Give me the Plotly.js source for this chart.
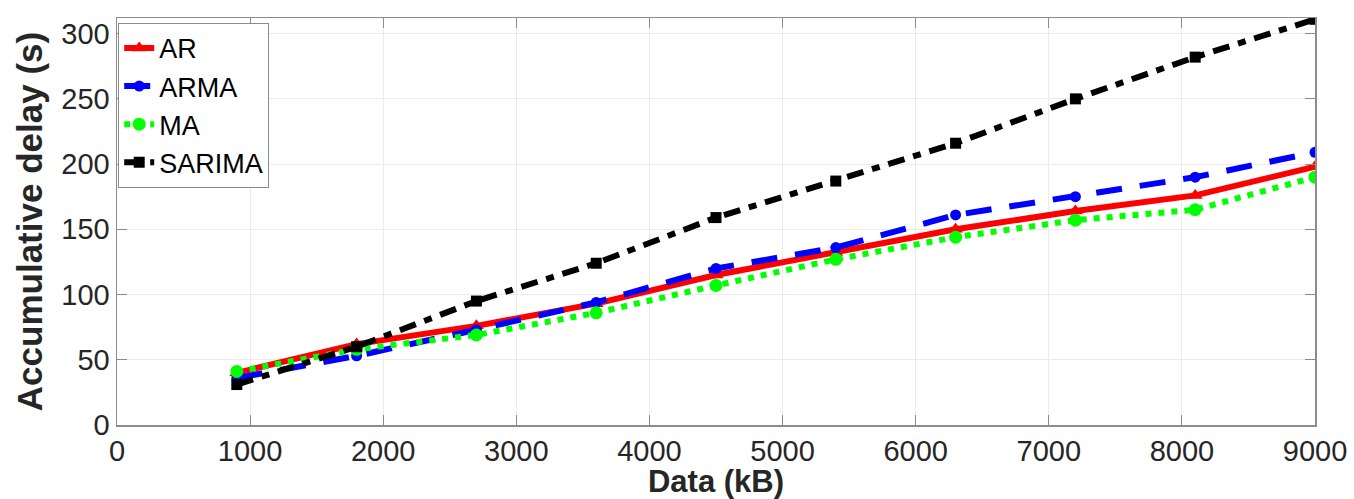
<!DOCTYPE html>
<html>
<head>
<meta charset="utf-8">
<script src="https://cdn.plot.ly/plotly-3.0.1.min.js"></script>
<style>html,body{margin:0;padding:0;background:#fff;}#chart{width:1354px;height:499px;}</style>
</head>
<body>
<div id="chart"></div>
<script>
const dataKB = [900, 1800, 2700, 3600, 4500, 5400, 6300, 7200, 8100, 9000];
const arDelay = [40, 62, 76, 93, 115, 132, 150, 164, 176, 198];
const armaDelay = [36, 53, 73, 94, 120, 136, 161, 175, 190, 209];
const maDelay = [41, 58, 69, 86, 107, 127, 144, 157, 165, 190];
const sarimaDelay = [31, 60, 95, 124, 159, 187, 216, 250, 282, 311];
const xTicks = [0, 1000, 2000, 3000, 4000, 5000, 6000, 7000, 8000, 9000];
const yTicks = [0, 50, 100, 150, 200, 250, 300];

const traces = [
  {name: 'AR', x: dataKB, y: arDelay, mode: 'lines+markers',
   line: {color: '#ff0000', width: 6},
   marker: {symbol: 'triangle-up', size: 13, color: '#ff0000'}},
  {name: 'ARMA', x: dataKB, y: armaDelay, mode: 'lines+markers',
   line: {color: '#0000ff', width: 6, dash: '26px,18px'},
   marker: {symbol: 'circle', size: 11, color: '#0000ff'}},
  {name: 'MA', x: dataKB, y: maDelay, mode: 'lines+markers',
   line: {color: '#00ff00', width: 6, dash: '6px,7px'},
   marker: {symbol: 'circle', size: 13, color: '#00ff00'}},
  {name: 'SARIMA', x: dataKB, y: sarimaDelay, mode: 'lines+markers',
   line: {color: '#000000', width: 6, dash: '17px,9px,8px,9px'},
   marker: {symbol: 'square', size: 11, color: '#000000'}}
];

const axisCommon = {
  showline: true, mirror: 'ticks', linecolor: '#8c8c8c', linewidth: 1.5,
  ticks: 'inside', ticklen: 10, tickcolor: '#8c8c8c', tickwidth: 1.2,
  showgrid: true, gridcolor: '#ebebeb', gridwidth: 1,
  zeroline: false,
  tickfont: {family: 'Liberation Sans, Arial, sans-serif', size: 29, color: '#262626'}
};

const layout = {
  width: 1354, height: 499,
  margin: {l: 117, r: 39, t: 18, b: 74},
  paper_bgcolor: '#ffffff', plot_bgcolor: '#ffffff',
  font: {family: 'Liberation Sans, Arial, sans-serif', color: '#262626'},
  showlegend: true,
  legend: {
    x: 0.001, y: 0.988, xanchor: 'left', yanchor: 'top',
    bgcolor: '#ffffff', bordercolor: '#8c8c8c', borderwidth: 1,
    font: {family: 'Liberation Sans, Arial, sans-serif', size: 27, color: '#000000'},
    tracegroupgap: 0, itemwidth: 30
  },
  xaxis: Object.assign({}, axisCommon, {
    range: [0, 9000], tickvals: xTicks, ticktext: xTicks.map(String),
    title: {text: 'Data (kB)', standoff: 14,
      font: {family: 'Liberation Sans, Arial, sans-serif', size: 31, color: '#262626', weight: 'bold'}}
  }),
  yaxis: Object.assign({}, axisCommon, {
    range: [0, 312], tickvals: yTicks, ticktext: yTicks.map(String),
    title: {text: 'Accumulative delay (s)', standoff: 8,
      font: {family: 'Liberation Sans, Arial, sans-serif', size: 35, color: '#262626', weight: 'bold'}}
  })
};

Plotly.newPlot('chart', traces, layout, {displayModeBar: false, staticPlot: true});
</script>
</body>
</html>
